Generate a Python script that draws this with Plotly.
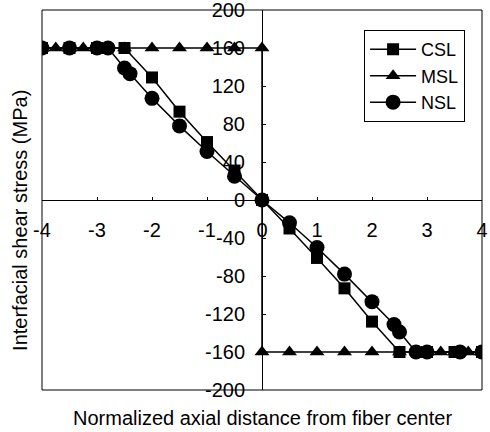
import plotly.graph_objects as go

# ---- data ----
csl_x = [-4, -3.5, -3, -2.5, -2, -1.5, -1, -0.5, 0, 0.5, 1, 1.5, 2, 2.5, 3, 3.5, 4]
csl_y = [160, 160, 160, 160, 129, 93, 61, 31, 0, -30, -61, -93, -128, -160, -160, -160, -160]

msl_x = [-4, -3.75, -3.5, -3.25, -3, -2.5, -2, -1.5, -1, -0.5, 0,
         0, 0.5, 1, 1.5, 2, 2.5, 3, 3.25, 3.5, 3.75, 4]
msl_y = [160, 160, 160, 160, 160, 160, 160, 160, 160, 160, 160,
         -160, -160, -160, -160, -160, -160, -160, -160, -160, -160, -160]

nsl_x = [-4, -3.5, -3, -2.8, -2.5, -2.4, -2, -1.5, -1, -0.5, 0,
         0.5, 1, 1.5, 2, 2.4, 2.5, 2.8, 3, 3.6, 4]
nsl_y = [160, 160, 160, 160, 139, 133, 107, 78, 51, 25, 0,
         -24, -50, -78, -107, -131, -139, -160, -160, -160, -160]

x_ticks = [-4, -3, -2, -1, 0, 1, 2, 3, 4]
y_ticks = [-200, -160, -120, -80, -40, 0, 40, 80, 120, 160, 200]

x_title = "Normalized axial distance from fiber center"
y_title = "Interfacial shear stress (MPa)"

FONT = "Liberation Sans, Arial, sans-serif"
FS = 20

fig = go.Figure()
line = dict(color="black", width=1.5)
fig.add_trace(go.Scatter(x=csl_x, y=csl_y, name="CSL", mode="lines+markers", legendgroup="a",
                         line=line, marker=dict(symbol="square", size=12, color="black")))
fig.add_trace(go.Scatter(x=msl_x, y=msl_y, name="MSL", mode="lines+markers", legendgroup="b",
                         line=line, marker=dict(symbol="triangle-up", size=13, color="black")))
fig.add_trace(go.Scatter(x=nsl_x, y=nsl_y, name="NSL", mode="lines+markers", legendgroup="c",
                         line=line, marker=dict(symbol="circle", size=15, color="black")))

fig.update_layout(
    width=490, height=432,
    margin=dict(l=42, r=8, t=10, b=42, autoexpand=False),
    paper_bgcolor="white", plot_bgcolor="white",
    font=dict(family=FONT, color="black", size=FS),
    showlegend=True,
    legend=dict(x=0.732, y=0.947, xanchor="left", yanchor="top",
                bgcolor="white", bordercolor="black", borderwidth=1,
                font=dict(size=18, family=FONT), tracegroupgap=0,
                itemwidth=46),
    xaxis=dict(range=[-4, 4], tickvals=x_ticks, ticktext=[str(v) for v in x_ticks],
               anchor="free", position=0.5, showline=True, linecolor="black", linewidth=1,
               ticks="inside", ticklen=3, tickcolor="black", automargin=False,
               ticklabelstandoff=12, ticklabeloverflow="allow",
               showgrid=False, zeroline=False, tickfont=dict(size=FS)),
    yaxis=dict(range=[-200, 200], tickvals=y_ticks, ticktext=[str(v) for v in y_ticks],
               anchor="free", position=0.5, showline=True, linecolor="black", linewidth=1,
               ticks="inside", ticklen=3, tickcolor="black", automargin=False,
               ticklabelstandoff=13, ticklabeloverflow="allow",
               showgrid=False, zeroline=False, tickfont=dict(size=FS)),
    shapes=[dict(type="rect", xref="paper", yref="paper", x0=0, y0=0, x1=1, y1=1,
                 line=dict(color="black", width=1), layer="below")],
    annotations=[
        dict(text=x_title, xref="paper", yref="paper", x=0.5, y=-0.074,
             xanchor="center", yanchor="middle", showarrow=False, font=dict(size=FS)),
        dict(text=y_title, xref="paper", yref="paper", x=-0.05, y=0.445,
             xanchor="center", yanchor="middle", textangle=-90, showarrow=False,
             font=dict(size=FS)),
    ],
)

fig.write_html("out.html", post_script="document.body.style.margin='0';",
               config={"displayModeBar": False})
